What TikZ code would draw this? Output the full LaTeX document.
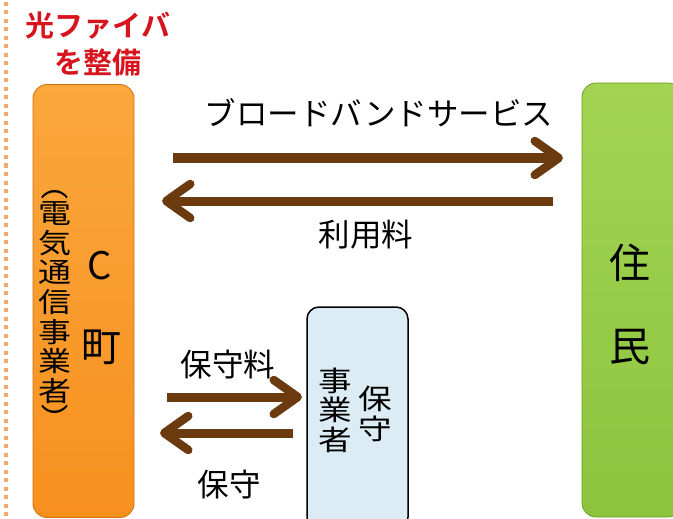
\documentclass[tikz,border=0pt]{standalone}
\usepackage{fontspec}
\setmainfont{Noto Sans CJK JP}
\newfontfamily\jpbold{Noto Sans CJK JP Bold}
\newfontfamily\jpwide[FakeStretch=1.2]{Noto Sans CJK JP}
\usetikzlibrary{arrows.meta}
\definecolor{brownarrow}{HTML}{6B3A0E}
\definecolor{orangebox}{HTML}{F7901E}
\definecolor{orangelight}{HTML}{FAA73C}
\definecolor{orangeedge}{HTML}{D0700E}
\definecolor{greenbox}{HTML}{8CC43E}
\definecolor{greenlight}{HTML}{A2D452}
\definecolor{greenedge}{HTML}{6E9E2C}
\definecolor{bluebox}{HTML}{DCECF4}
\definecolor{redtext}{HTML}{D7141E}
\definecolor{dotline}{HTML}{F2A96A}
\tikzset{
  flow/.style={draw=brownarrow, line width=9pt,
    -{Straight Barb[length=24pt,width=34pt,line width=8.5pt,round]}},
  lbl/.style={font=\fontsize{31.5}{31.5}\selectfont, text=black, inner sep=0pt},
  vlbl/.style={text=black, inner sep=0pt, align=center},
}
\begin{document}
\begin{tikzpicture}[x=1pt,y=-1pt]
\useasboundingbox[fill=white] (0,0) rectangle (673,519);
% dotted boundary
\draw[dotline, line width=4pt, dash pattern=on 4pt off 4.5pt] (6,2) -- (6,519);
% title
\node[font=\jpbold\fontsize{29}{37}\selectfont, text=redtext, align=center, inner sep=0pt] (title) at (98,44) {光ファイバ\\を整備};
% orange box
\node[draw=orangeedge, line width=0.8pt, rounded corners=14pt, top color=orangelight, bottom color=orangebox,
      minimum width=101pt, minimum height=433pt, inner sep=0pt] (town) at (83.5,301) {};
\node[vlbl, font=\fontsize{38}{38}\selectfont] (townC) at (100,266) {C};
\node[vlbl, font=\fontsize{40}{40}\selectfont] (townM) at (101,347) {町};
\node[vlbl, font=\jpwide\fontsize{27.5}{29.6}\selectfont] (townsub) at (55,302)
  {\rotatebox[origin=c]{-90}{（}\\電\\気\\通\\信\\事\\業\\者\\\rotatebox[origin=c]{-90}{）}};
% green box
\node[draw=greenedge, line width=0.8pt, rounded corners=14pt, top color=greenlight, bottom color=greenbox,
      minimum width=100pt, minimum height=434pt, inner sep=0pt] (res) at (632,300) {};
\node[vlbl, font=\fontsize{41}{41}\selectfont] (resA) at (630,263) {住};
\node[vlbl, font=\fontsize{41}{41}\selectfont] (resB) at (630,347) {民};
% maintenance box
\node[draw=black, line width=1.5pt, rounded corners=12pt, fill=bluebox,
      minimum width=101pt, minimum height=222pt, inner sep=0pt] (maint) at (357.5,418) {};
\node[vlbl, font=\jpwide\fontsize{28}{29.5}\selectfont] (mA) at (335,410) {事\\業\\者};
\node[vlbl, font=\jpwide\fontsize{28}{30}\selectfont] (mB) at (375,414) {保\\守};
% arrow endpoints
\coordinate (a1s) at (173,158); \coordinate (a1e) at (563,158);
\coordinate (a2s) at (553,201); \coordinate (a2e) at (162,201);
\coordinate (a3s) at (167,397); \coordinate (a3e) at (302,397);
\coordinate (a4s) at (293,433); \coordinate (a4e) at (160,433);
\draw[flow] (a1s) -- (a1e);
\draw[flow] (a2s) -- (a2e);
\draw[flow] (a3s) -- (a3e);
\draw[flow] (a4s) -- (a4e);
% labels
\node[lbl] (l1) at (379,113) {ブロードバンドサービス};
\node[lbl] (l2) at (366,235) {利用料};
\node[lbl] (l3) at (228,365) {保守料};
\node[lbl] (l4) at (229,485) {保守};
\end{tikzpicture}
\end{document}
